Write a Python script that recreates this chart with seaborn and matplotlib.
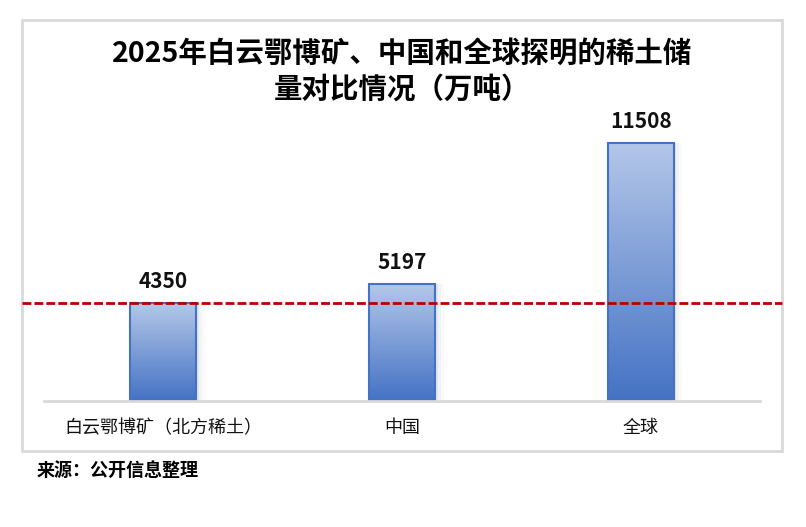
import numpy as np
import matplotlib
matplotlib.use("Agg")
import matplotlib.pyplot as plt
from matplotlib.patches import Rectangle
from matplotlib.colors import LinearSegmentedColormap
import seaborn as sns

# Rare-earth reserves, 10k tonnes
categories = ["白云鄂博矿（北方稀土）", "中国", "全球"]
reserves = [4350, 5197, 11508]
reference_value = 4350

title_text = "2025年白云鄂博矿、中国和全球探明的稀土储\n量对比情况（万吨）"
source_text = "来源：公开信息整理"

sns.set_style("white")
plt.rcParams["font.family"] = ["Noto Sans CJK SC", "DejaVu Sans"]

W, H = 806, 527
fig = plt.figure(figsize=(W / 100, H / 100), dpi=100)
fig.patch.set_facecolor("white")


def px_box(x0, y0, x1, y1):
    """Pixel box (top-left origin) -> figure fraction [l, b, w, h]."""
    return [x0 / W, 1 - y1 / H, (x1 - x0) / W, (y1 - y0) / H]


ax = fig.add_axes(px_box(44, 130, 760, 401))

sns.barplot(x=categories, y=reserves, ax=ax, width=0.276,
            color="#4472c4", edgecolor="#4472c4", linewidth=1.5,
            saturation=1)

# vertical gradient fill clipped to each bar, plus a soft shadow on the right
grad = LinearSegmentedColormap.from_list("bar", ["#4472c4", "#b4c7e9"])
gimg = np.linspace(0, 1, 256).reshape(-1, 1)
for bar in ax.patches[:len(categories)]:
    x0, w = bar.get_x(), bar.get_width()
    h = bar.get_height()
    for k, a in enumerate([0.10, 0.06, 0.03]):
        ax.add_patch(Rectangle((x0 + w, 0), 0.012 * (k + 1), h,
                               facecolor="#6a7fa8", alpha=a, lw=0, zorder=1))
    im = ax.imshow(gimg, cmap=grad, aspect="auto", origin="lower",
                   extent=(x0, x0 + w, 0, h), zorder=bar.get_zorder() + 0.1)
    im.set_clip_path(bar)
    bar.set_facecolor("none")
    bar.set_zorder(bar.get_zorder() + 0.2)

ax.set_xlim(-0.5, len(categories) - 0.5)
ax.set_ylim(0, max(reserves) * 1.05)

# value labels
for i, v in enumerate(reserves):
    ax.annotate(f"{v}", (i, v), xytext=(0, 15.5), textcoords="offset points",
                ha="center", va="center", fontsize=15, fontweight="bold",
                color="#111111")

# reference line across the whole panel
ax.axhline(reference_value, xmin=-22 / 716, xmax=1 + 22 / 716,
           color="#b80000", lw=2, ls=(0, (3.2, 1.1)), clip_on=False, zorder=5)

for s in ["top", "right", "left"]:
    ax.spines[s].set_visible(False)
ax.spines["bottom"].set_color("#d9d9d9")
ax.spines["bottom"].set_linewidth(2)
ax.set_yticks([])
ax.tick_params(axis="x", length=0, labelsize=13, pad=13, colors="#111111")
ax.set_xlabel("")
ax.set_ylabel("")

# panel frame
fig.add_artist(Rectangle((22 / W, 1 - 451 / H), 760 / W, 431 / H,
                         transform=fig.transFigure, facecolor="none",
                         edgecolor="#d9d9d9", lw=2, zorder=0))

fig.text(402 / W, 1 - 72 / H, title_text, ha="center", va="center",
         fontsize=20.5, fontweight="bold", linespacing=1.35, color="#000000")
fig.text(37 / W, 1 - 470 / H, source_text, ha="left", va="center",
         fontsize=13, fontweight="bold", color="#000000")

fig.savefig("out.png", dpi=100, facecolor="white")
